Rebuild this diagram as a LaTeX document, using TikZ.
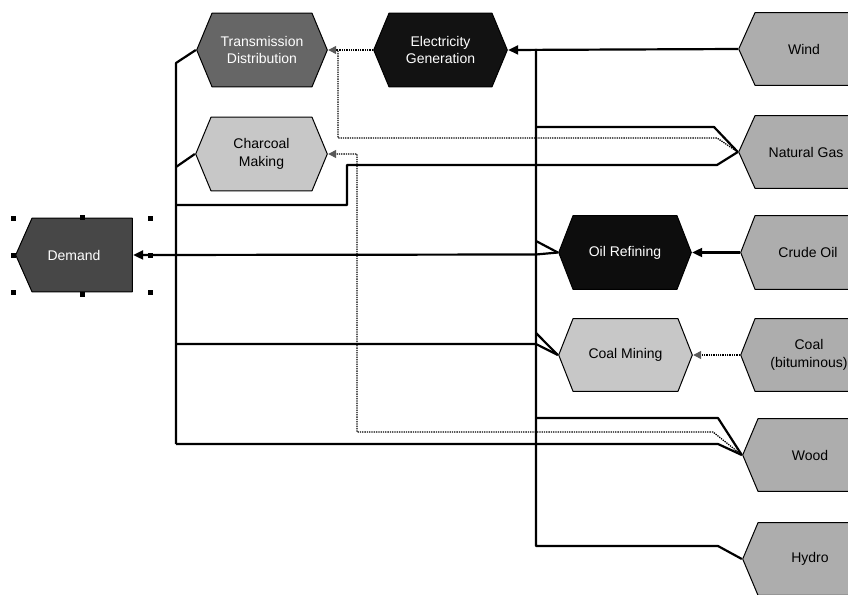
\documentclass[tikz,border=0pt]{standalone}
\usepackage{fontspec}
\setmainfont{Liberation Sans}
\usetikzlibrary{arrows.meta,calc}
\tikzset{
  hexa/.style n args={3}{% fill, text colour, slope
    shape=rectangle, inner sep=0pt, minimum height=75pt, align=center, text=#2,
    font=\fontsize{14}{17.5}\selectfont,
    path picture={\path[fill=#1,draw=black,line width=1pt,line join=round]
      ([xshift=.7pt]path picture bounding box.west) --
      ([xshift=#3,yshift=-.7pt]path picture bounding box.north west) --
      ([xshift=-#3,yshift=-.7pt]path picture bounding box.north east) --
      ([xshift=-.7pt]path picture bounding box.east) --
      ([xshift=-#3,yshift=.7pt]path picture bounding box.south east) --
      ([xshift=#3,yshift=.7pt]path picture bounding box.south west) -- cycle;}
  },
  penta/.style n args={3}{% fill, text colour, slope
    shape=rectangle, inner sep=0pt, minimum height=75pt, align=center, text=#2,
    font=\fontsize{14}{17.5}\selectfont,
    path picture={\path[fill=#1,draw=black,line width=1pt,line join=round]
      ([xshift=.7pt]path picture bounding box.west) --
      ([xshift=#3,yshift=-.7pt]path picture bounding box.north west) --
      ([xshift=-.7pt,yshift=-.7pt]path picture bounding box.north east) --
      ([xshift=-.7pt,yshift=.7pt]path picture bounding box.south east) --
      ([xshift=#3,yshift=.7pt]path picture bounding box.south west) -- cycle;}
  },
  feed/.style={line width=2.2pt, black, line join=round},
  feedarrow/.style={feed, -{Triangle[length=10pt,width=9pt]}},
  aux/.style={line width=1.3pt, black, dash pattern=on 1.3pt off 1pt, line join=round},
  auxarrow/.style={aux, -{Triangle[length=8pt,width=8pt,color=black!65]}},
  handle/.style={fill=black},
}
\begin{document}
\begin{tikzpicture}[x=1pt,y=-1pt]
\useasboundingbox (0,0) rectangle (848,594);
\clip (0,0) rectangle (848,594);
\fill[white] (0,0) rectangle (848,594);

% nodes
\node[hexa={black!60}{white}{16pt}, minimum width=132pt] (trans) at (262,50) {Transmission\\Distribution};
\node[hexa={black!93}{white}{16pt}, minimum width=135pt] (elec) at (440.5,50) {Electricity\\Generation};
\node[hexa={black!22}{black}{16pt}, minimum width=133pt] (char) at (261.5,154) {Charcoal\\Making};
\node[penta={black!72}{white}{17pt}, minimum width=118pt] (demand) at (74,255) {Demand};
\node[hexa={black!95}{white}{15pt}, minimum width=134pt] (oil) at (625,252.5) {Oil Refining};
\node[hexa={black!22}{black}{15pt}, minimum width=135pt, minimum height=74pt] (cm) at (625.5,355) {Coal Mining};
\node[hexa={black!32}{black}{17pt}, minimum width=132pt, minimum height=74pt] (wind) at (804,49) {Wind};
\node[hexa={black!32}{black}{17pt}, minimum width=136pt, minimum height=74pt] (ng) at (806,152) {Natural Gas};
\node[hexa={black!32}{black}{15pt}, minimum width=136pt] (crude) at (808,252.5) {Crude Oil};
\node[hexa={black!32}{black}{15pt}, minimum width=138pt, minimum height=74pt] (cb) at (809,355) {Coal\\(bituminous)};
\node[hexa={black!32}{black}{16pt}, minimum width=136pt, minimum height=74pt] (wood) at (810,455) {Wood};
\node[hexa={black!32}{black}{16pt}, minimum width=136pt, minimum height=74pt] (hydro) at (810,559) {Hydro};

% junction coordinates
\coordinate (egbus) at (536,49);
\coordinate (dbtop) at (176,63);
\coordinate (dbbot) at (176,444);

% feeds into Electricity Generation
\draw[feedarrow] (wind.west) -- (elec.east);
\draw[feed] (hydro.west) -- (718,546) -- (536,546) -- (egbus);
\draw[feed] (ng.west) -- (714,127) -- (536,127);
\draw[feed] (oil.west) -- (536,241);
\draw[feed] (cm.west) -- (536,333);
\draw[feed] (wood.west) -- (718,418) -- (536,418);

% feeds into the demand bus
\draw[feed] (trans.west) -- (dbtop) -- (dbbot);
\draw[feed] (char.west) -- (176,167);
\draw[feed] (ng.west) -- (717,165) -- (347,165) -- (347,205) -- (176,205);
\draw[feed] (cm.west) -- (536,344) -- (176,344);
\draw[feed] (wood.west) -- (718,444) -- (dbbot);
\draw[feedarrow] (oil.west) -- (536,254.5) -- (demand.east);

% other process inputs
\draw[feedarrow] (crude.west) -- (oil.east);
\draw[auxarrow] (cb.west) -- (cm.east);
\draw[auxarrow] (elec.west) -- (trans.east);
\draw[aux] (ng.west) -- (717,138) -- (338,138) -- (338,50);
\draw[auxarrow] (wood.west) -- (713,432) -- (357,432) -- (357,154) -- (char.east);

% selection handles round Demand
\foreach \hx/\hy in {13/218,82/217,150/218,13/255,150/255,13/292,82/294,150/292}
  \fill[handle] (\hx-2.5,\hy-2.5) rectangle ++(5,5);
\end{tikzpicture}
\end{document}
